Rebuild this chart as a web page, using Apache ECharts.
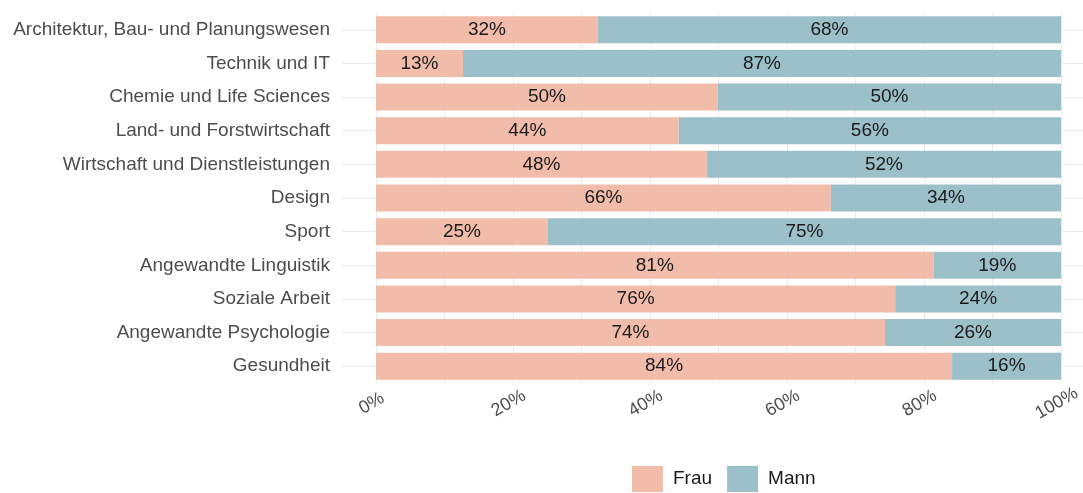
<!DOCTYPE html>
<html>
<head>
<meta charset="utf-8">
<script src="https://cdn.jsdelivr.net/npm/echarts@6/dist/echarts.min.js"></script>
<style>
  html, body { margin: 0; padding: 0; background: #fff; }
  #chart { width: 1083px; height: 493px; }
</style>
</head>
<body>
<div id="chart"></div>
<script>
// Fachbereiche, oben nach unten
const categories = [
  'Architektur, Bau- und Planungswesen',
  'Technik und IT',
  'Chemie und Life Sciences',
  'Land- und Forstwirtschaft',
  'Wirtschaft und Dienstleistungen',
  'Design',
  'Sport',
  'Angewandte Linguistik',
  'Soziale Arbeit',
  'Angewandte Psychologie',
  'Gesundheit'
]
const frau = [32.4, 12.7, 49.9, 44.2, 48.3, 66.4, 25.1, 81.4, 75.8, 74.3, 84.1]
const mann = [67.6, 87.3, 50.1, 55.8, 51.7, 33.6, 74.9, 18.6, 24.2, 25.7, 15.9]
const xTicks = [0, 20, 40, 60, 80, 100]

const chart = echarts.init(document.getElementById('chart'))

const labelStyle = {
  show: true,
  position: 'inside',
  color: '#1a1a1a',
  fontSize: 19,
  fontFamily: 'Liberation Sans, Arial',
  formatter: p => Math.round(p.value) + '%'
}

// grid lines reaching out of the bar area, like the panel of the original
const gridTick = len => ({
  show: true,
  alignWithLabel: true,
  length: len,
  lineStyle: { color: '#ebebeb', width: 1 }
})

chart.setOption({
  animation: false,
  grid: {
    left: 376,
    right: 22,
    top: 13,
    bottom: 110,
    containLabel: false,
    outerBoundsMode: 'none'
  },
  legend: {
    top: 466,
    left: 632,
    padding: 0,
    itemWidth: 31,
    itemHeight: 26,
    itemGap: 15,
    icon: 'rect',
    textStyle: {
      color: '#1a1a1a',
      fontSize: 19,
      padding: [0, 0, 0, 5],
      fontFamily: 'Liberation Sans, Arial'
    },
    data: ['Frau', 'Mann']
  },
  xAxis: {
    type: 'value',
    min: 0,
    max: 100,
    interval: 10,
    axisLine: { show: false },
    axisTick: { show: false },
    splitLine: { lineStyle: { color: '#ebebeb', width: 1 } },
    axisLabel: {
      rotate: 30,
      align: 'center',
      margin: 18,
      padding: [0, 10, 0, 0],
      color: '#4d4d4d',
      fontSize: 18,
      fontFamily: 'Liberation Sans, Arial',
      formatter: v => xTicks.includes(v) ? v + '%' : ''
    }
  },
  yAxis: [
    {
      type: 'category',
      inverse: true,
      data: categories,
      axisLine: { show: false },
      axisTick: gridTick(34),
      splitLine: { show: false },
      axisLabel: {
        margin: 46,
        color: '#4d4d4d',
        fontSize: 19,
        fontFamily: 'Liberation Sans, Arial'
      }
    },
    {
      type: 'category',
      inverse: true,
      position: 'right',
      data: categories,
      axisLine: { show: false },
      axisTick: gridTick(24),
      axisLabel: { show: false },
      splitLine: { show: false }
    }
  ],
  series: [
    {
      name: 'Frau',
      type: 'bar',
      stack: 'total',
      barWidth: 27,
      data: frau,
      itemStyle: { color: '#F1BDAA' },
      label: labelStyle
    },
    {
      name: 'Mann',
      type: 'bar',
      stack: 'total',
      barWidth: 27,
      data: mann,
      itemStyle: { color: '#9BC0C9' },
      label: labelStyle
    }
  ]
})
</script>
</body>
</html>
